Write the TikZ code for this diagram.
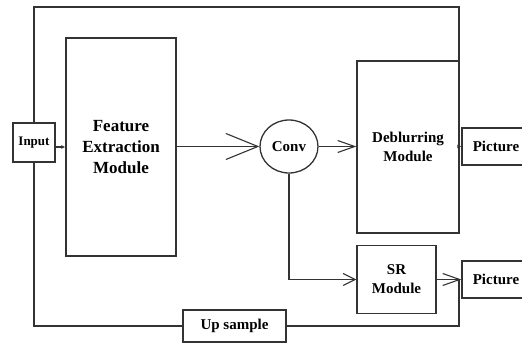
\documentclass[tikz,border=0pt]{standalone}
\usepackage{fontspec}
\setmainfont{Liberation Serif}
\usetikzlibrary{arrows.meta,shapes.geometric}
\begin{document}
\begin{tikzpicture}[x=1pt,y=-1pt,
  ln/.style={draw=black!80,line width=1.3pt},
  box/.style={ln,rectangle,inner sep=0pt,align=center,font=\bfseries\fontsize{15}{19}\selectfont},
  bigvee/.style={-{Straight Barb[length=32pt,width=26pt,line width=1.1pt]}},
  midvee/.style={-{Straight Barb[length=17pt,width=12pt,line width=1.1pt]}},
  smallvee/.style={-{Straight Barb[length=12pt,width=12pt,line width=1.1pt]}},
  tiny/.style={-{Latex[length=4pt,width=4pt]}}]
\useasboundingbox (0,0) rectangle (522,344);
\node[box,minimum width=42pt,minimum height=39pt,font=\bfseries\fontsize{13}{15}\selectfont] (input) at (34,142.5) {Input};
\node[box,minimum width=110pt,minimum height=218pt,font=\bfseries\fontsize{17}{21}\selectfont] (fem) at (121,147) {Feature\\Extraction\\Module};
\node[box,ellipse,minimum width=58pt,minimum height=53pt] (conv) at (289,146.5) {Conv};
\node[box,minimum width=102pt,minimum height=172pt] (deblur) at (408,147) {Deblurring\\Module};
\node[box,minimum width=68pt,minimum height=37pt] (pic1) at (496,146.5) {Picture};
\node[box,minimum width=79pt,minimum height=68pt] (sr) at (396.5,279.5) {SR\\Module};
\node[box,minimum width=68pt,minimum height=37pt] (pic2) at (496,279.5) {Picture};
\node[box,minimum width=103pt,minimum height=32pt] (up) at (234.5,326) {Up sample};
\coordinate (tl) at (34,7);
\coordinate (tr) at (459,7);
\coordinate (j1) at (459,146.5);
\coordinate (j2) at (459,279.5);
\draw[ln,tiny] (input.north) -- (tl) -- (tr) -- (j1) -- (pic1.west);
\draw[ln,tiny] (input.east |- fem.west) -- (fem.west);
\draw[ln,bigvee] (fem.east |- conv.west) -- (conv.west);
\draw[ln,midvee] (conv.east) -- (conv.east -| deblur.west);
\draw[ln,smallvee] (conv.south) |- (sr.west);
\draw[ln,midvee] (sr.east) -- (pic2.west);
\draw[ln] (input.south) |- (up.west);
\draw[ln] (up.east) -| (j2);
\end{tikzpicture}
\end{document}
